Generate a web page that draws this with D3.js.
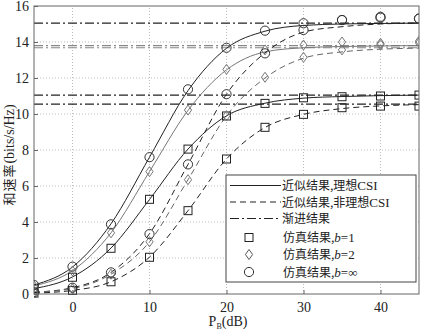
<!DOCTYPE html>
<html><head><meta charset="utf-8">
<script src="https://cdn.jsdelivr.net/npm/d3@7"></script>
<style>body{margin:0;background:#fff}svg{display:block}</style>
</head><body><div id="c"></div>
<script>
// ---- data ----
const xTicks = [0, 10, 20, 30, 40];
const yTicks = [0, 2, 4, 6, 8, 10, 12, 14, 16];
const snr = [-5, 0, 5, 10, 15, 20, 25, 30, 35, 40, 45];

// approximate (analytical) curves
const lineIdealInf  = [0.5, 1.5, 3.9, 7.6, 11.3, 13.65, 14.6, 14.92, 15.0, 15.03, 15.05];
const lineNonInf    = [0.1, 0.35, 1.2, 3.35, 7.2, 11.1, 13.4, 14.55, 14.85, 15.0, 15.05];
const lineIdealB2   = [0.45, 1.3, 3.4, 6.8, 10.2, 12.45, 13.45, 13.68, 13.75, 13.78, 13.8];
const lineNonB2     = [0.1, 0.3, 1.1, 2.9, 6.35, 9.9, 12.0, 13.1, 13.45, 13.6, 13.66];
const lineIdealB1   = [0.3, 0.95, 2.55, 5.25, 8.05, 9.9, 10.6, 10.88, 10.97, 11.02, 11.05];
const lineNonB1     = [0.05, 0.2, 0.68, 2.05, 4.63, 7.5, 9.25, 9.98, 10.3, 10.45, 10.52];

// simulation markers
const simIdealInf = [0.5, 1.52, 3.87, 7.6, 11.37, 13.68, 14.63, 15.04, 15.22, 15.4, 15.3];
const simNonInf   = [0.1, 0.35, 1.2, 3.33, 7.2, 11.1, 13.37, 14.67, 15.22, 15.35, 15.3];
const simIdealB2  = [0.45, 1.28, 3.4, 6.8, 10.22, 12.48, 13.56, 13.83, 14.0, 13.93, 14.05];
const simNonB2    = [0.1, 0.3, 1.1, 2.9, 6.35, 9.9, 12.04, 13.15, 13.56, 13.85, 13.95];
const simIdealB1  = [0.3, 0.93, 2.54, 5.26, 8.05, 9.89, 10.59, 10.9, 10.96, 11.0, 11.05];
const simNonB1    = [0.05, 0.2, 0.68, 2.04, 4.63, 7.5, 9.26, 9.98, 10.35, 10.44, 10.44];

// asymptotes
const asymptotes = [15.05, 13.8, 13.68, 11.05, 10.55];
const asymColors = ["#222", "#888", "#888", "#222", "#222"];

const legendLabels = ["近似结果,理想CSI", "近似结果,非理想CSI", "渐进结果", "仿真结果,b=1", "仿真结果,b=2", "仿真结果,b=∞"];

// ---- drawing ----
const W = 424, H = 330;
const m = {l: 34, r: 5, t: 6, b: 36};
const svg = d3.select("#c").append("svg").attr("width", W).attr("height", H);
const x = d3.scaleLinear().domain([-5, 45]).range([m.l, W - m.r]);
const y = d3.scaleLinear().domain([0, 16]).range([H - m.b, m.t]);
const serif = "'Liberation Serif', 'Times New Roman', serif";
const cjk = "'Noto Sans CJK SC', sans-serif";

// grid
const g = svg.append("g");
g.selectAll(".gx").data(xTicks).join("line")
  .attr("x1", d => x(d)).attr("x2", d => x(d)).attr("y1", y(0)).attr("y2", y(16))
  .attr("stroke", "#aaa").attr("stroke-width", 0.8).attr("stroke-dasharray", "1,2");
g.selectAll(".gy").data(yTicks.slice(1, -1)).join("line")
  .attr("y1", d => y(d)).attr("y2", d => y(d)).attr("x1", x(-5)).attr("x2", x(45))
  .attr("stroke", "#aaa").attr("stroke-width", 0.8).attr("stroke-dasharray", "1,2");

// asymptotes
svg.selectAll(".as").data(asymptotes).join("line")
  .attr("x1", x(-5)).attr("x2", x(45)).attr("y1", d => y(d)).attr("y2", d => y(d))
  .attr("stroke", (d, i) => asymColors[i]).attr("stroke-width", 1.2)
  .attr("stroke-dasharray", "9,3,2,3");

const line = d3.line().x((d, i) => x(snr[i])).y(d => y(d)).curve(d3.curveMonotoneX);
const curves = [
  [lineIdealInf, "#222", null],
  [lineIdealB2, "#777", null],
  [lineIdealB1, "#222", null],
  [lineNonInf, "#222", "6,4"],
  [lineNonB2, "#666", "6,4"],
  [lineNonB1, "#222", "6,4"]
];
curves.forEach(([d, c, da]) => {
  svg.append("path").attr("d", line(d)).attr("fill", "none").attr("stroke", c)
    .attr("stroke-width", 1).attr("stroke-dasharray", da);
});

function marker(sel, type, cx, cy, col) {
  if (type === "circle") {
    sel.append("circle").attr("cx", cx).attr("cy", cy).attr("r", 4.6)
      .attr("fill", "none").attr("stroke", col).attr("stroke-width", 1);
  } else if (type === "square") {
    sel.append("rect").attr("x", cx - 4).attr("y", cy - 4).attr("width", 8).attr("height", 8)
      .attr("fill", "none").attr("stroke", col).attr("stroke-width", 1);
  } else {
    sel.append("path").attr("d", `M${cx},${cy - 5}L${cx + 3.6},${cy}L${cx},${cy + 5}L${cx - 3.6},${cy}Z`)
      .attr("fill", "none").attr("stroke", col).attr("stroke-width", 1);
  }
}
const sims = [
  [simIdealB1, "square", "#222"], [simNonB1, "square", "#222"],
  [simIdealB2, "diamond", "#777"], [simNonB2, "diamond", "#777"],
  [simIdealInf, "circle", "#333"], [simNonInf, "circle", "#333"]
];
const mg = svg.append("g");
sims.forEach(([d, t, c]) => d.forEach((v, i) => marker(mg, t, x(snr[i]), y(v), c)));

// cover overflow outside frame
svg.append("rect").attr("x", 0).attr("y", 0).attr("width", m.l).attr("height", H).attr("fill", "#fff");
svg.append("rect").attr("x", W - m.r).attr("y", 0).attr("width", m.r).attr("height", H).attr("fill", "#fff");
svg.append("rect").attr("x", 0).attr("y", 0).attr("width", W).attr("height", m.t).attr("fill", "#fff");

// frame
svg.append("rect").attr("x", x(-5)).attr("y", y(16)).attr("width", x(45) - x(-5)).attr("height", y(0) - y(16))
  .attr("fill", "none").attr("stroke", "#666").attr("stroke-width", 1);

// axes
const ax = svg.append("g").attr("transform", `translate(0,${y(0)})`)
  .call(d3.axisBottom(x).tickValues(xTicks).tickSize(-4).tickPadding(8));
const ay = svg.append("g").attr("transform", `translate(${x(-5)},0)`)
  .call(d3.axisLeft(y).tickValues(yTicks).tickSize(-4).tickPadding(5));
[ax, ay].forEach(a => {
  a.attr("font-family", null).attr("font-size", null);
  a.select(".domain").remove();
  a.selectAll("line").attr("stroke", "#666");
  a.selectAll("text").style("font-family", serif).style("font-size", "14px").attr("fill", "#222");
});

// axis labels
const xl = svg.append("text").attr("x", 228).attr("y", 326).attr("text-anchor", "middle")
  .style("font-family", serif).style("font-size", "14px").attr("fill", "#222");
xl.append("tspan").text("P");
xl.append("tspan").style("font-size", "8px").attr("dy", 3).text("B");
xl.append("tspan").attr("dy", -3).text("(dB)");

const yl = svg.append("text").attr("transform", "translate(14,155) rotate(-90)")
  .attr("text-anchor", "middle").attr("fill", "#222");
yl.append("tspan").style("font-family", cjk).style("font-size", "13px").style("letter-spacing", "1px").text("和速率");
yl.append("tspan").style("font-family", serif).style("font-size", "14px").text("(bits/s/Hz)");

// legend
const lg = svg.append("g");
lg.append("rect").attr("x", 226).attr("y", 175).attr("width", 190).attr("height", 107)
  .attr("fill", "#fff").attr("stroke", "#444").attr("stroke-width", 1);
const rowY = [185.5, 202, 218.5, 237.5, 254.5, 272];
const dashes = [null, "6,4", "9,3,2,3"];
for (let i = 0; i < 3; i++) {
  lg.append("line").attr("x1", 230).attr("x2", 281).attr("y1", rowY[i]).attr("y2", rowY[i])
    .attr("stroke", "#222").attr("stroke-width", 1).attr("stroke-dasharray", dashes[i]);
}
marker(lg, "square", 249, rowY[3], "#222");
marker(lg, "diamond", 249, rowY[4], "#555");
marker(lg, "circle", 249, rowY[5], "#333");
legendLabels.forEach((t, i) => {
  const tx = lg.append("text").attr("x", i < 3 ? 282 : 283).attr("y", rowY[i] + 4.5)
    .attr("fill", "#222");
  const m1 = t.match(/^([^A-Za-z=∞]*)(.*)$/);
  tx.append("tspan").style("font-family", cjk).style("font-size", "12px").text(m1[1]);
  if (m1[2]) {
    if (m1[2].startsWith("b")) {
      tx.append("tspan").style("font-family", serif).style("font-style", "italic").style("font-size", "13px").text("b");
      tx.append("tspan").style("font-family", serif).style("font-size", "13px").text(m1[2].slice(1));
    } else {
      tx.append("tspan").style("font-family", serif).style("font-size", "13px").text(m1[2]);
    }
  }
});
</script>
</body></html>
